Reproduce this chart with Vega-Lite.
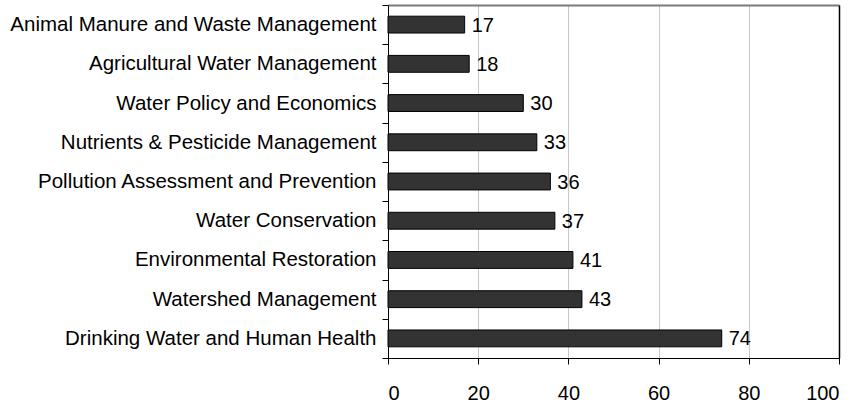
{
  "$schema": "https://vega.github.io/schema/vega-lite/v6.json",
  "autosize": "none",
  "width": 451,
  "height": 353,
  "padding": {"left": 388, "top": 5, "right": 20, "bottom": 44},
  "background": "white",
  "config": {
    "view": {"stroke": null},
    "font": "Liberation Sans"
  },
  "data": {
    "values": [
      {"topic": "Animal Manure and Waste Management", "count": 17},
      {"topic": "Agricultural Water Management", "count": 18},
      {"topic": "Water Policy and Economics", "count": 30},
      {"topic": "Nutrients & Pesticide Management", "count": 33},
      {"topic": "Pollution Assessment and Prevention", "count": 36},
      {"topic": "Water Conservation", "count": 37},
      {"topic": "Environmental Restoration", "count": 41},
      {"topic": "Watershed Management", "count": 43},
      {"topic": "Drinking Water and Human Health", "count": 74}
    ]
  },
  "layer": [
    {
      "mark": {"type": "bar", "fill": "#333333", "stroke": "#000000", "strokeWidth": 1, "height": {"band": 0.43}},
      "encoding": {
        "y": {
          "field": "topic", "type": "nominal", "sort": null,
          "scale": {"paddingInner": 0, "paddingOuter": 0},
          "axis": {
            "orient": "left", "title": null, "tickBand": "extent",
            "domainColor": "#000000", "tickColor": "#000000", "tickSize": 6,
            "labelPadding": 6, "labelFontSize": 20.5, "labelColor": "#000000",
            "labelFont": "Liberation Sans", "grid": false, "labelLimit": 500
          }
        },
        "x": {
          "field": "count", "type": "quantitative",
          "scale": {"domain": [0, 100], "nice": false},
          "axis": {
            "orient": "bottom", "title": null, "values": [0, 20, 40, 60, 80, 100],
            "grid": true, "gridColor": "#c8c8c8", "gridWidth": 1,
            "domainColor": "#000000", "tickColor": "#000000", "tickSize": 6,
            "labelPadding": 19, "labelFontSize": 20, "labelColor": "#000000",
            "labelFont": "Liberation Sans"
          }
        }
      }
    },
    {
      "mark": {"type": "text", "align": "left", "baseline": "middle", "dx": 7, "dy": 1, "fontSize": 20, "color": "#000000", "font": "Liberation Sans"},
      "encoding": {
        "y": {
          "field": "topic", "type": "nominal", "sort": null,
          "axis": {"orient": "right", "title": null, "labels": false, "ticks": false, "grid": false, "domain": true, "domainColor": "#000000", "domainWidth": 1.5}
        },
        "x": {
          "field": "count", "type": "quantitative",
          "axis": {"orient": "top", "title": null, "labels": false, "ticks": false, "grid": false, "domain": true, "domainColor": "#7a7a7a", "domainWidth": 2}
        },
        "text": {"field": "count", "type": "quantitative"}
      }
    }
  ],
  "resolve": {"axis": {"x": "independent", "y": "independent"}}
}
